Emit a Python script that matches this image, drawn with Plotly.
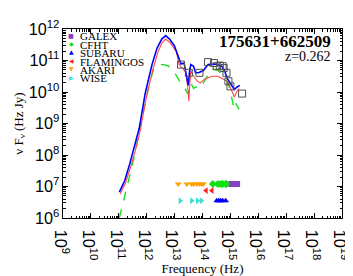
import numpy as np
import plotly.graph_objects as go

# ---- data (log10 values) ----
blue_lognu = [11.02, 11.21, 11.39, 11.56, 11.73, 11.95, 12.19, 12.37, 12.54, 12.68, 12.82, 12.99,
              13.16, 13.23, 13.34, 13.44, 13.49, 13.54, 13.58, 13.68, 13.75, 13.86, 14.03, 14.20,
              14.44, 14.69, 14.79, 14.89, 15.03, 15.14, 15.24, 15.34]
blue_logf = [6.82, 7.18, 7.71, 8.24, 8.84, 9.97, 10.87, 11.39, 11.68, 11.79, 11.68, 11.47,
             11.03, 10.89, 10.92, 10.50, 10.21, 10.68, 10.87, 10.82, 10.61, 10.61, 10.68, 10.87,
             10.89, 10.82, 10.68, 10.42, 10.21, 10.08, 10.16, 10.21]

red_lognu = [11.05, 11.24, 11.42, 11.59, 11.76, 11.99, 12.23, 12.40, 12.54, 12.68, 12.82, 12.99,
             13.06, 13.16, 13.30, 13.40, 13.47, 13.51, 13.54, 13.58, 13.68, 13.82, 13.92, 14.10,
             14.34, 14.55, 14.72, 14.89, 15.03, 15.14, 15.24, 15.31]
red_logf = [6.76, 7.11, 7.61, 8.13, 8.74, 9.84, 10.74, 11.26, 11.55, 11.68, 11.58, 11.37,
            11.29, 10.87, 10.74, 10.63, 10.16, 9.71, 10.16, 10.68, 10.50, 10.34, 10.29, 10.42,
            10.50, 10.50, 10.42, 10.34, 10.08, 9.84, 10.03, 10.11]

green_lognu = [11.02, 11.21, 11.39, 11.56, 11.73, 11.88, 12.09, 12.26, 12.44, 12.61, 12.78, 12.99,
               13.16, 13.30, 13.47, 13.51, 13.58, 13.68, 13.75, 13.92, 14.17, 14.34, 14.55, 14.79,
               14.96, 15.07, 15.14, 15.20, 15.31]
green_logf = [6.00, 6.74, 7.34, 7.97, 8.66, 9.37, 10.24, 10.76, 10.87, 10.87, 10.82, 10.63,
              10.37, 10.21, 9.95, 10.03, 10.29, 10.11, 10.16, 10.11, 10.50, 10.74, 10.68, 10.50,
              10.16, 9.76, 9.45, 9.63, 9.45]

obs_lognu = [13.23, 13.51, 13.89, 14.20, 14.41, 14.51, 14.62, 14.72, 14.76, 14.86, 14.93, 15.00, 15.42]
obs_logf = [10.87, 10.61, 10.61, 10.95, 10.92, 10.82, 10.84, 10.82, 10.76, 10.61, 10.34, 10.18, 9.95]

# filter band positions (log10 frequency) and their plotting level (log10 flux)
galex_lognu = [15.03, 15.24]
cfht_lognu = [14.37, 14.55, 14.65, 14.72, 14.83, 14.86]
subaru_lognu = [14.51, 14.58, 14.65, 14.72, 14.83]
flamingos_lognu = [14.13, 14.34]
akari_lognu = [13.13, 13.44, 13.61, 13.68, 13.79, 13.89, 13.96, 14.03]
wise_lognu = [13.20, 13.61, 13.82, 13.96]
level_top = 7.08
level_mid = 6.87
level_low = 6.55

legend_names = ["GALEX", "CFHT", "SUBARU", "FLAMINGOS", "AKARI", "WISE"]
legend_glyphs = ["\u25A0", "\u25C6", "\u25B2", "\u25C0", "\u25BC", "\u25B6"]
legend_colors = ["#8040C0", "#10E010", "#0000FF", "#FF2020", "#FFA000", "#40E0D0"]

title_text = "175631+662509"
z_text = "z=0.262"

p = lambda a: 10 ** np.array(a)

fig = go.Figure()
fig.add_trace(go.Scatter(x=p(green_lognu), y=p(green_logf), mode="lines",
                         line=dict(color="#10E010", width=1.3, dash="dash"), showlegend=False))
fig.add_trace(go.Scatter(x=p(red_lognu), y=p(red_logf), mode="lines",
                         line=dict(color="#FF4848", width=1.1), showlegend=False))
fig.add_trace(go.Scatter(x=p(blue_lognu), y=p(blue_logf), mode="lines",
                         line=dict(color="#0000FF", width=1.6), showlegend=False))
fig.add_trace(go.Scatter(x=p(obs_lognu), y=p(obs_logf), mode="markers",
                         marker=dict(symbol="square-open", size=7, color="#505050",
                                     line=dict(width=1, color="#505050")), showlegend=False))

bands = [
    (galex_lognu, level_top, "square", legend_colors[0]),
    (cfht_lognu, level_top, "diamond", legend_colors[1]),
    (subaru_lognu, level_low, "triangle-up", legend_colors[2]),
    (flamingos_lognu, level_mid, "triangle-left", legend_colors[3]),
    (akari_lognu, level_top, "triangle-down", legend_colors[4]),
    (wise_lognu, level_low, "triangle-right", legend_colors[5]),
]
for lognu, lev, sym, col in bands:
    fig.add_trace(go.Scatter(x=p(lognu), y=[10 ** lev] * len(lognu), mode="markers",
                             marker=dict(symbol=sym, size=6, color=col, line=dict(width=0)),
                             showlegend=False))

L, R, T, B = 48, 16, 10, 38
W, H = 353, 276
pw, ph = W - L - R, H - T - B

def px(xp):
    return (xp - L) / pw

def py(yp):
    return (H - B - yp) / ph

ann = []
for i, (nm, gl, col) in enumerate(zip(legend_names, legend_glyphs, legend_colors)):
    yy = py(19 + 10.1 * i)
    ann.append(dict(x=px(56.7), y=py(17.5 + 10.1 * i), xref="paper", yref="paper", text=gl, showarrow=False,
                    font=dict(family="DejaVu Sans", size=6, color=col), xanchor="center", yanchor="middle"))
    ann.append(dict(x=px(64), y=yy, xref="paper", yref="paper", text=nm, showarrow=False,
                    font=dict(family="Liberation Serif", size=11, color="black"),
                    xanchor="left", yanchor="middle"))
ann.append(dict(x=px(328), y=py(25), xref="paper", yref="paper", text="<b>" + title_text + "</b>",
                showarrow=False, font=dict(family="Liberation Serif", size=17, color="black"),
                xanchor="right", yanchor="middle"))
ann.append(dict(x=px(328), y=py(43), xref="paper", yref="paper", text=z_text,
                showarrow=False, font=dict(family="Liberation Serif", size=14, color="black"),
                xanchor="right", yanchor="middle"))

axis_common = dict(type="log", showline=True, linecolor="black", linewidth=1, mirror="allticks",
                   ticks="inside", ticklen=5, tickcolor="black", showgrid=False, zeroline=False,
                   dtick=1, exponentformat="power", ticklabeloverflow="allow",
                   tickfont=dict(family="Liberation Sans", size=13, color="black"),
                   minor=dict(ticks="inside", ticklen=2.5, tickcolor="black", showgrid=False))

fig.update_layout(
    width=W, height=H, margin=dict(l=L, r=R, t=T, b=B),
    paper_bgcolor="white", plot_bgcolor="white",
    xaxis=dict(range=[9, 19.0002], title=dict(text="Frequency (Hz)", standoff=4,
               font=dict(family="Liberation Serif", size=13, color="black")), **axis_common),
    yaxis=dict(range=[6, 12.0002], title=dict(text="\u03bd F<sub>\u03bd</sub> (Hz Jy)", standoff=2,
               font=dict(family="Liberation Serif", size=13, color="black")), **axis_common),
    annotations=ann,
    showlegend=False,
)

fig.write_html("out.html")
